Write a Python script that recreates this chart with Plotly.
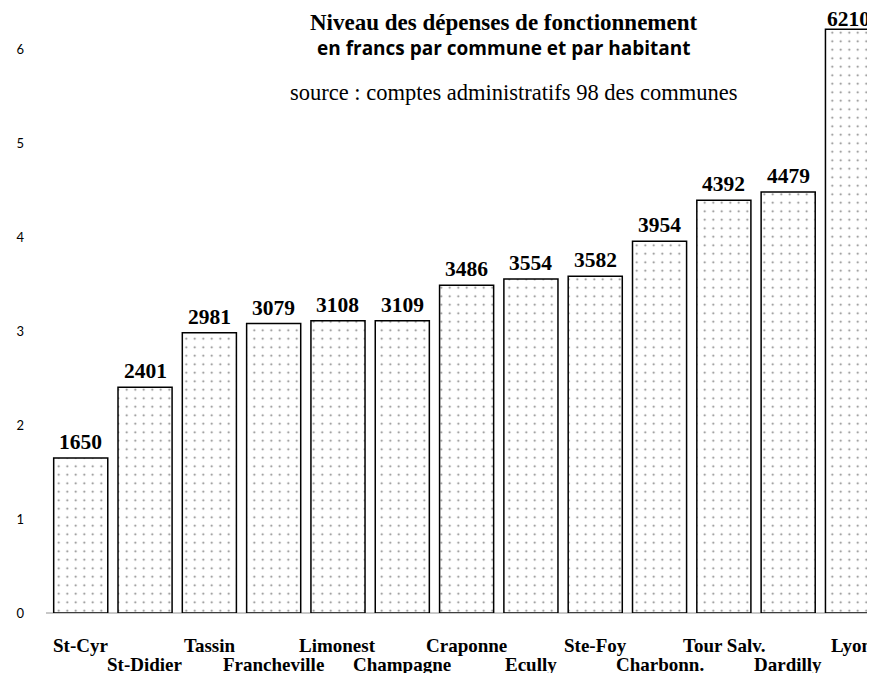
import plotly.graph_objects as go

communes = ["St-Cyr", "St-Didier", "Tassin", "Francheville", "Limonest", "Champagne",
            "Craponne", "Ecully", "Ste-Foy", "Charbonn.", "Tour Salv.", "Dardilly", "Lyon"]
depenses = [1650, 2401, 2981, 3079, 3108, 3109, 3486, 3554, 3582, 3954, 4392, 4479, 6210]
ytick_vals = [0, 1000, 2000, 3000, 4000, 5000, 6000]
ytick_text = ["0", "1", "2", "3", "4", "5", "6"]

xs = list(range(len(communes)))

W, H = 875, 673
OFF = 8  # page body margin
ml, mr, mt, mb = 40 - OFF, OFF, 20 - OFF, H - (613 - OFF)
pw, ph = W - ml - mr, H - mt - mb

fig = go.Figure()
fig.add_trace(go.Bar(
    x=xs, y=depenses, width=0.841,
    marker=dict(color="white",
                line=dict(color="black", width=1.5),
                pattern=dict(shape=".", fgcolor="black", bgcolor="white", size=8.5, solidity=0.045)),
    hoverinfo="x+y",
))

annotations = []
last = len(communes) - 1
for i, (name, v) in enumerate(zip(communes, depenses)):
    annotations.append(dict(x=i, xref="x", y=0, yref="paper", yshift=-32 if i % 2 == 0 else -51,
                            text="<b>" + name + "</b>", showarrow=False, yanchor="middle",
                            font=dict(family="Liberation Serif", size=19, color="black")))
    annotations.append(dict(x=i, xref="x", y=v, yref="y", yanchor="bottom",
                            yshift=2 if i != last else -4, xshift=0 if i != last else -4,
                            text="<b>" + str(v) + "</b>", showarrow=False,
                            font=dict(family="Liberation Serif", size=21.5, color="black")))
header = [
    dict(x=501, y=22, text="<b>Niveau des dépenses de fonctionnement</b>",
         font=dict(family="Liberation Serif", size=23, color="black")),
    dict(x=501, y=48, text="<b>en francs par commune et par habitant</b>",
         font=dict(family="Open Sans", size=19, color="black")),
    dict(x=511, y=93, text="source : comptes administratifs 98 des communes",
         font=dict(family="Liberation Serif", size=22.5, color="black")),
]
for a in header:
    a["xref"] = "paper"; a["yref"] = "paper"; a["showarrow"] = False
    a["x"] = (a["x"] - OFF - ml) / pw
    a["y"] = (H - mb - (a["y"] - OFF)) / ph
    a["xanchor"] = "center"; a["yanchor"] = "middle"
annotations += header

fig.update_layout(
    width=W, height=H, margin=dict(l=ml, r=mr, t=mt, b=mb),
    paper_bgcolor="white", plot_bgcolor="white", showlegend=False,
    annotations=annotations,
    xaxis=dict(range=[-0.540, 12.35], showticklabels=False, showgrid=False, zeroline=False,
               showline=False, ticks=""),
    yaxis=dict(range=[0, 6309], tickvals=ytick_vals, ticktext=ytick_text, showgrid=False,
               zeroline=True, zerolinecolor="#c8c8c8", zerolinewidth=2, showline=False,
               tickfont=dict(family="Lato", size=13, color="black"), ticks="", ticklabelstandoff=21),
)
fig.write_html("out.html")
